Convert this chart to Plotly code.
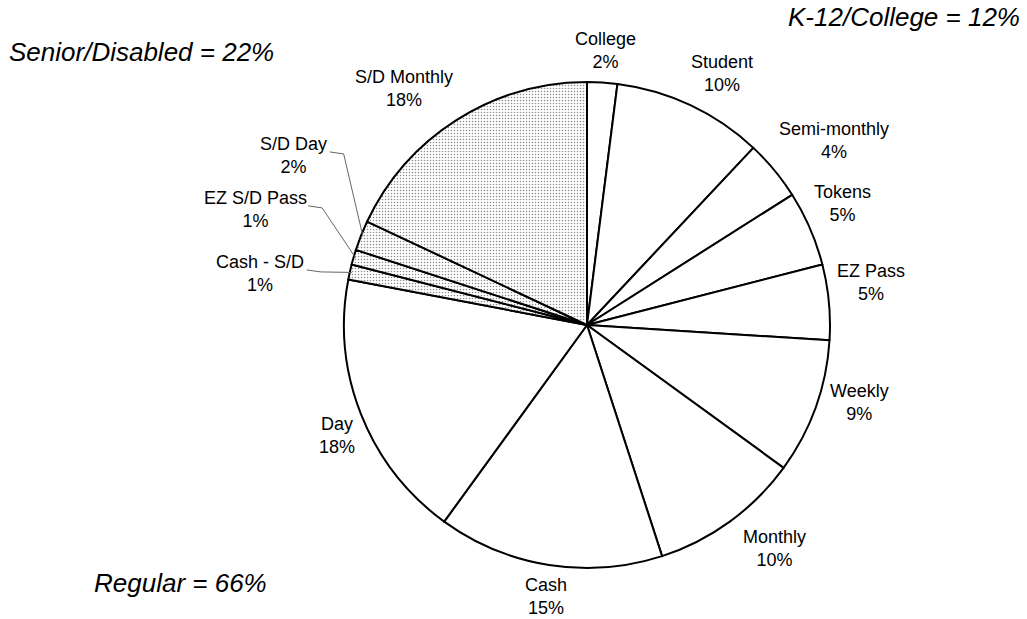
import math
import plotly.graph_objects as go

# Fare-type shares of ridership (percent), clockwise from 12 o'clock
fare_types = ["College", "Student", "Semi-monthly", "Tokens", "EZ Pass", "Weekly",
              "Monthly", "Cash", "Day", "Cash - S/D", "EZ S/D Pass", "S/D Day", "S/D Monthly"]
shares = [2, 10, 4, 5, 5, 9, 10, 15, 18, 1, 1, 2, 18]
senior_disabled = ["Cash - S/D", "EZ S/D Pass", "S/D Day", "S/D Monthly"]

group_labels = ["Senior/Disabled = 22%", "K-12/College = 12%", "Regular = 66%"]

W, H = 1027, 619
CX, CY, R = 587, 325, 243          # pie centre and radius in pixels
LABEL_R = 280                      # radial distance of slice labels

# label nudges (px) relative to the radial anchor point
label_nudge = {
    "College": (1, 5), "Student": (16, 2), "Semi-monthly": (31, -6),
    "Tokens": (-1, -10), "EZ Pass": (5, -16), "Weekly": (9, -17),
    "Monthly": (23, -3), "Cash": (3, -5), "Day": (10, 7),
    "Cash - S/D": (-54, 10), "EZ S/D Pass": (-63, -37), "S/D Day": (-33, -66),
    "S/D Monthly": (-33, 0),
}
# callout labels drawn with a leader line: start x offset from label centre
leaders = {"S/D Day": 36, "EZ S/D Pass": 53, "Cash - S/D": 47}


def px2paper(x, y):
    return x / W, 1 - y / H


fills = ["#e8e8e8" if f in senior_disabled else "white" for f in fare_types]
shapes_pattern = ["." if f in senior_disabled else "" for f in fare_types]

fig = go.Figure(go.Pie(
    labels=fare_types, values=shares, sort=False, direction="clockwise", rotation=0,
    textinfo="none", hoverinfo="skip",
    marker=dict(colors=fills, line=dict(color="black", width=2),
                pattern=dict(shape=shapes_pattern, fgcolor="#8a8a8a", size=3, solidity=0.2)),
    domain=dict(x=[(CX - R) / W, (CX + R) / W], y=[1 - (CY + R) / H, 1 - (CY - R) / H]),
))

annotations = []
shapes = []
total = sum(shares)
cum = 0
for name, v in zip(fare_types, shares):
    mid = math.radians((cum + v / 2) / total * 360)
    cum += v
    ax = CX + LABEL_R * math.sin(mid)
    ay = CY - LABEL_R * math.cos(mid)
    dx, dy = label_nudge[name]
    lx, ly = ax + dx, ay + dy
    x, y = px2paper(lx, ly)
    annotations.append(dict(x=x, y=y, xref="paper", yref="paper", xanchor="center",
                            yanchor="middle", showarrow=False,
                            text=f"{name}<br>{v}%",
                            font=dict(family="Liberation Sans, Arial", size=18, color="black")))
    if name in leaders:
        ex = CX + (R - 2) * math.sin(mid)
        ey = CY - (R - 2) * math.cos(mid)
        sx, sy = lx + leaders[name], ly - 4
        kx, ky = sx + 14, sy + 2
        pts = [px2paper(sx, sy), px2paper(kx, ky), px2paper(ex, ey)]
        path = "M {} {} L {} {} L {} {}".format(*[c for p in pts for c in p])
        shapes.append(dict(type="path", path=path, xref="paper", yref="paper",
                           line=dict(color="#666666", width=1)))

# group totals in the corners
corner_pos = [(7, 52, "left"), (1022, 17, "right"), (92, 583, "left")]
for txt, (px_, py_, anchor) in zip(group_labels, corner_pos):
    x, y = px2paper(px_, py_)
    annotations.append(dict(x=x, y=y, xref="paper", yref="paper", xanchor=anchor,
                            yanchor="middle", showarrow=False, text=f"<i>{txt}</i>",
                            font=dict(family="Liberation Sans, Arial", size=26, color="black")))

fig.update_layout(
    width=W, height=H, margin=dict(l=0, r=0, t=0, b=0),
    paper_bgcolor="white", plot_bgcolor="white", showlegend=False,
    annotations=annotations, shapes=shapes,
)

fig.write_html("out.html")
